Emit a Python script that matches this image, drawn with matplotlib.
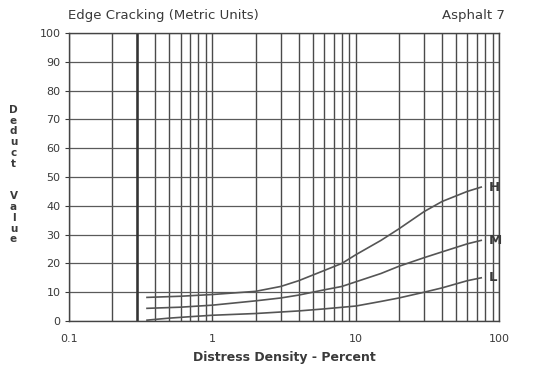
"""Edge cracking deduct value curves (asphalt 7), metric units."""

import numpy as np
import matplotlib.pyplot as plt
from matplotlib.ticker import LogLocator, FixedLocator, NullFormatter


# ============================================================
# Data
# ============================================================
h_density = [0.35, 0.6, 1, 2, 3, 4, 6, 8, 10, 15, 20, 30, 40, 60, 75]
h_deduct = [8.2, 8.6, 9.2, 10.3, 12.0, 14.0, 17.5, 20.0, 23.0, 28.0, 32.0, 38.0, 41.5, 45.0, 46.5]

m_density = [0.35, 0.6, 1, 2, 3, 4, 6, 8, 10, 15, 20, 30, 40, 60, 75]
m_deduct = [4.4, 4.8, 5.5, 7.0, 8.0, 9.0, 10.8, 12.0, 13.6, 16.5, 19.0, 22.0, 24.0, 26.8, 28.0]

l_density = [0.35, 0.5, 0.7, 1, 2, 4, 6, 10, 15, 20, 30, 40, 60, 75]
l_deduct = [0.3, 1.0, 1.5, 2.0, 2.6, 3.5, 4.2, 5.2, 6.8, 8.0, 10.0, 11.5, 14.0, 15.0]

curve_labels = ["H", "M", "L"]
x_ticks = [0.1, 1, 10, 100]
x_tick_labels = ["0.1", "1", "10", "100"]
y_ticks = list(range(0, 101, 10))

ink = "#3a3a3a"
plt.rcParams["font.family"] = ["DejaVu Sans"]

fig = plt.figure(figsize=(5.39, 3.70), dpi=100)
ax = fig.add_axes([0.128, 0.1324, 0.798, 0.7784])

ax.set_xscale("log")
ax.set_xlim(0.1, 100)
ax.set_ylim(0, 100)

# ---- grid: every minor decade line, every 10 deduct points ----
ax.xaxis.set_major_locator(FixedLocator(x_ticks))
ax.xaxis.set_minor_locator(LogLocator(base=10, subs=np.arange(2, 10)))
ax.xaxis.set_minor_formatter(NullFormatter())
ax.set_xticks(x_ticks)
ax.set_xticklabels(x_tick_labels)
ax.set_yticks(y_ticks)

ax.grid(True, which="both", axis="x", color="#4a4a4a", linewidth=1.0)
ax.grid(True, which="major", axis="y", color="#5a5a5a", linewidth=0.9)
ax.axvline(0.3, color="#333333", linewidth=1.8)
ax.set_axisbelow(True)

for s in ax.spines.values():
    s.set_color("#444444")
    s.set_linewidth(1.0)

ax.tick_params(axis="x", which="both", length=0, pad=9, labelsize=8, colors=ink)
ax.tick_params(axis="y", length=3, width=0.8, pad=3, labelsize=8, colors=ink)

# ---- curves ----
for xs, ys, lab in zip([h_density, m_density, l_density],
                       [h_deduct, m_deduct, l_deduct], curve_labels):
    ax.plot(xs, ys, color="#555555", linewidth=1.2)
    ax.text(xs[-1] * 1.12, ys[-1], lab, color=ink, fontsize=9.5,
            fontweight="bold", va="center", ha="left")

# ---- titles / labels ----
fig.text(0.127, 0.957, "Edge Cracking (Metric Units)", fontsize=9.5,
         color=ink, ha="left", va="center")
fig.text(0.937, 0.957, "Asphalt 7", fontsize=9.5, color=ink,
         ha="right", va="center")
fig.text(0.528, 0.033, "Distress Density - Percent", fontsize=9,
         color=ink, ha="center", va="center", fontweight="bold")
fig.text(0.025, 0.528, "D\ne\nd\nu\nc\nt\n\n\nV\na\nl\nu\ne", fontsize=7.5,
         color=ink, ha="center", va="center", linespacing=1.1,
         fontweight="bold")

fig.savefig("out.png", dpi=100, facecolor="white")
